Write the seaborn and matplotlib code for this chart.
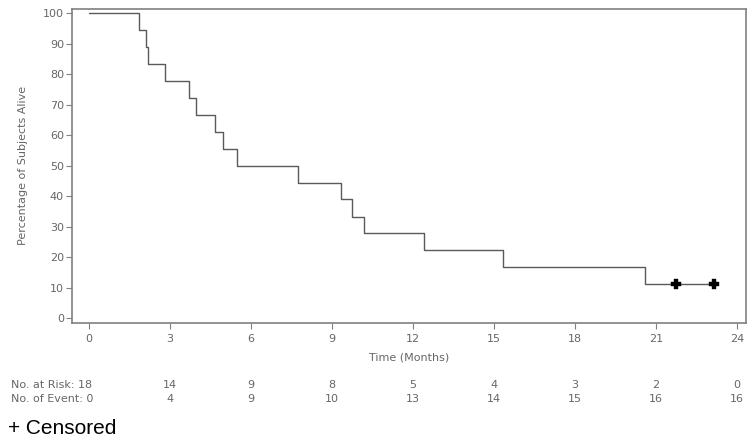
import matplotlib
matplotlib.use("Agg")
import matplotlib.pyplot as plt
import matplotlib.transforms as mtransforms
import seaborn as sns
import pandas as pd

# Kaplan-Meier step data (months, % alive)
event_times = [0, 1.86, 2.11, 2.21, 2.81, 3.70, 3.97, 4.68, 4.97, 5.48, 7.73,
               9.33, 9.76, 10.21, 12.41, 15.34, 20.59, 23.15]
survival = [100, 94.4, 88.9, 83.3, 77.8, 72.2, 66.7, 61.1, 55.6, 50.0, 44.4,
            38.9, 33.3, 27.8, 22.2, 16.7, 11.1, 11.1]
censor_times = [21.75, 23.15]
censor_surv = [11.1, 11.1]

risk_times = [0, 3, 6, 9, 12, 15, 18, 21, 24]
at_risk = [18, 14, 9, 8, 5, 4, 3, 2, 0]
n_events = [0, 4, 9, 10, 13, 14, 15, 16, 16]

xticks = [0, 3, 6, 9, 12, 15, 18, 21, 24]
yticks = [0, 10, 20, 30, 40, 50, 60, 70, 80, 90, 100]

sns.set_style("white")
plt.rcParams['font.family'] = ['DejaVu Sans']

GRAY = "#666666"
FS = 8
fig = plt.figure(figsize=(7.55, 4.46), dpi=100)
ax = fig.add_axes([0.0958, 0.2765, 0.8919, 0.7033])

km = pd.DataFrame({"time": event_times, "surv": survival})
sns.lineplot(data=km, x="time", y="surv", drawstyle="steps-post",
             color="#5a5a5a", linewidth=1.0, ax=ax, estimator=None, sort=False)
cens = pd.DataFrame({"time": censor_times, "surv": censor_surv})
sns.scatterplot(data=cens, x="time", y="surv", marker="P", s=45,
                color="black", edgecolor="black", linewidth=0.3, ax=ax, zorder=5)

ax.set_xlim(-0.61, 24.33)
ax.set_ylim(-1.54, 101.4)
ax.set_xticks(xticks)
ax.set_yticks(yticks)
ax.set_xticklabels([str(v) for v in xticks])
ax.set_yticklabels([str(v) for v in yticks])
for s in ax.spines.values():
    s.set_color("#808080")
    s.set_linewidth(1.2)
ax.tick_params(axis="both", direction="out", length=4, width=0.8,
               bottom=True, left=True,
               colors="#808080", labelcolor=GRAY, labelsize=FS, pad=2)
ax.tick_params(axis="x", pad=4)
ax.set_xlabel("Time (Months)", color=GRAY, fontsize=FS, labelpad=6)
ax.set_ylabel("Percentage of Subjects Alive", color=GRAY, fontsize=FS, labelpad=11)

trans = mtransforms.blended_transform_factory(ax.transData, fig.transFigure)
y_risk = 1 - 385 / 446
y_evt = 1 - 399 / 446
fig.text(11 / 755, y_risk, f"No. at Risk: {at_risk[0]}", color=GRAY,
         fontsize=FS, ha="left", va="center")
fig.text(11 / 755, y_evt, f"No. of Event: {n_events[0]}", color=GRAY,
         fontsize=FS, ha="left", va="center")
for t, r, e in zip(risk_times[1:], at_risk[1:], n_events[1:]):
    ax.text(t, y_risk, str(r), transform=trans, color=GRAY, fontsize=FS,
            ha="center", va="center")
    ax.text(t, y_evt, str(e), transform=trans, color=GRAY, fontsize=FS,
            ha="center", va="center")

fig.text(8 / 755, 1 - 428 / 446, "+ Censored", color="black", fontsize=15,
         ha="left", va="center", family=["Liberation Sans", "DejaVu Sans"])

fig.savefig("out.png", dpi=100)
